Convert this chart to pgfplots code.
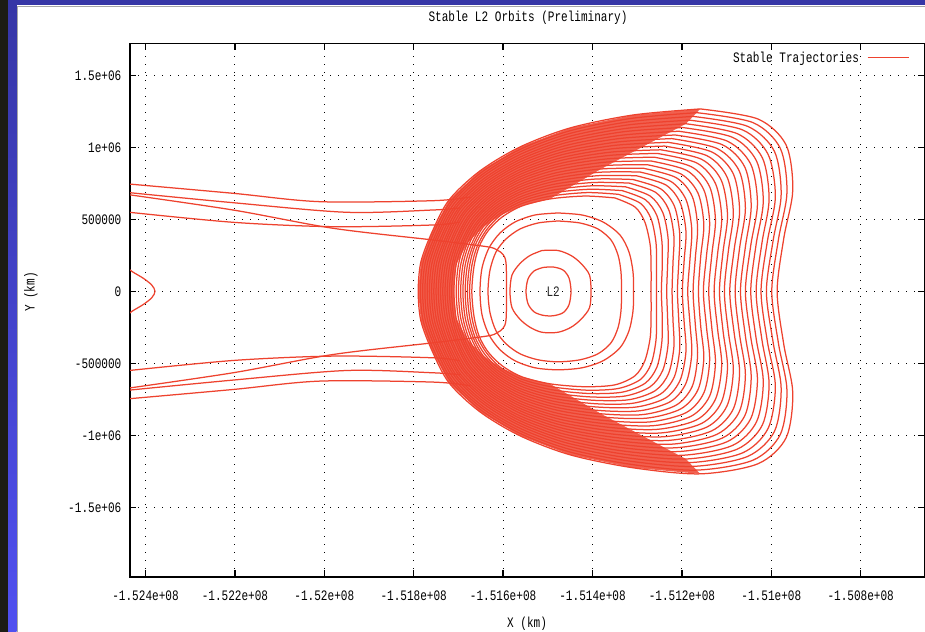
\documentclass[border=0pt]{standalone}
\usepackage{fontspec}
\newfontfamily\gnu{Liberation Mono}[FakeStretch=0.765]
\usepackage{pgfplots}
\pgfplotsset{compat=1.18}
\definecolor{trajred}{RGB}{238,66,46}
\definecolor{stripdark}{RGB}{28,28,20}
\definecolor{bluetop}{RGB}{54,54,166}
\definecolor{bluebot}{RGB}{80,80,240}
\newcommand\gfont{\gnu\fontsize{14.5}{16}\selectfont}
\pgfplotsset{band/.style={trajred, line width=1.25bp, smooth, forget plot}}
\begin{document}
\begin{tikzpicture}[x=1bp,y=1bp]
\useasboundingbox (0,0) rectangle (925,632);
\fill[white] (0,0) rectangle (925,632);
\fill[stripdark] (0,0) rectangle (8,632);
\shade[top color=bluetop, bottom color=bluebot] (8,0) rectangle (16.5,632);
\fill[bluetop] (8,626.5) rectangle (925,632);
\draw[black!35, line width=1.2bp] (17.2,0) -- (17.2,625.8) -- (925,625.8);
\begin{axis}[
  at={(130bp,55.2bp)}, anchor=south west,
  width=794.5bp, height=533.2bp, scale only axis,
  xmin=-152434.7, xmax=-150657.3,
  ymin=-1981.8, ymax=1720.7,
  clip=true,
  scaled x ticks=false, scaled y ticks=false,
  xtick={-152400,-152200,-152000,-151800,-151600,-151400,-151200,-151000,-150800},
  xticklabels={-1.524e+08,-1.522e+08,-1.52e+08,-1.518e+08,-1.516e+08,-1.514e+08,-1.512e+08,-1.51e+08,-1.508e+08},
  ytick={-1500,-1000,-500,0,500,1000,1500},
  yticklabels={-1.5e+06,-1e+06,-500000,0,500000,1e+06,1.5e+06},
  xtick pos=both, ytick pos=both,
  tick align=inside, major tick length=6.5bp,
  tick style={black, line width=1.4bp},
  axis line style={black, line width=1.6bp},
  grid=major,
  major grid style={black, line width=1bp, dash pattern=on 1bp off 7bp},
  ticklabel style={font=\gfont, text=black},
  xticklabel style={anchor=center, yshift=-18.5bp},
  yticklabel style={anchor=east, inner sep=0pt, xshift=-8.5bp},
  title={Stable L2 Orbits (Preliminary)},
  title style={font=\gfont, at={(axis description cs:0.501,1.0368)}, anchor=center},
  xlabel={X (km)},
  xlabel style={font=\gfont, at={(axis description cs:0.4997,-0.0886)}, anchor=center},
  ylabel={Y (km)},
  ylabel style={font=\gfont, at={(axis description cs:-0.1246,0.534)}, anchor=center},
  legend style={draw=none, fill=none, at={(axis description cs:1,1)}, anchor=north east, xshift=-15bp, yshift=-6bp, font=\gfont, inner sep=0pt},
  legend plot pos=right,
  legend image code/.code={\path (0bp,0bp); \draw[#1] (6bp,0bp) -- (47bp,0bp);},
]
\addlegendimage{trajred, line width=1.3bp}
\addlegendentry{Stable Trajectories}

% densely packed part of the family
\addplot[fill=trajred!84!white, draw=none, forget plot] coordinates {(-151159,1267) (-151309,1225) (-151450,1135) (-151562,1003) (-151652,836) (-151721,635) (-151759,412) (-151784,204) (-151790,0) (-151784,-204) (-151759,-412) (-151721,-635) (-151652,-836) (-151562,-1003) (-151450,-1135) (-151309,-1225) (-151159,-1267) (-151191,-1164) (-151381,-850) (-151495,-642) (-151558,-593) (-151605,-530) (-151645,-446) (-151680,-334) (-151705,-186) (-151710,0) (-151705,186) (-151680,334) (-151645,446) (-151605,530) (-151558,593) (-151495,642) (-151381,850) (-151191,1164) (-151159,1267)};

% nested stable trajectories
\addplot[band] coordinates {(-151350,649) (-151305,586) (-151283,482) (-151271,322) (-151269,162) (-151269,0) (-151269,-162) (-151271,-322) (-151283,-482) (-151305,-586) (-151350,-649) (-151417,-662) (-151495,-642) (-151558,-593) (-151602,-517) (-151634,-419) (-151654,-308) (-151665,-176) (-151670,0) (-151665,176) (-151654,308) (-151634,419) (-151602,517) (-151558,593) (-151495,642) (-151417,662) (-151350,649)};
\addplot[band] coordinates {(-151342,674) (-151293,612) (-151269,504) (-151258,338) (-151257,171) (-151257,0) (-151257,-171) (-151258,-338) (-151269,-504) (-151293,-612) (-151342,-674) (-151412,-686) (-151493,-662) (-151558,-610) (-151605,-530) (-151637,-428) (-151658,-313) (-151670,-178) (-151675,0) (-151670,178) (-151658,313) (-151637,428) (-151605,530) (-151558,610) (-151493,662) (-151412,686) (-151342,674)};
\addplot[band] coordinates {(-151334,700) (-151282,637) (-151256,526) (-151245,354) (-151244,180) (-151246,0) (-151244,-180) (-151245,-354) (-151256,-526) (-151282,-637) (-151334,-700) (-151408,-709) (-151491,-683) (-151558,-627) (-151607,-543) (-151641,-437) (-151663,-317) (-151675,-179) (-151680,0) (-151675,179) (-151663,317) (-151641,437) (-151607,543) (-151558,627) (-151491,683) (-151408,709) (-151334,700)};
\addplot[band] coordinates {(-151326,726) (-151271,662) (-151243,549) (-151231,370) (-151232,189) (-151234,0) (-151232,-189) (-151231,-370) (-151243,-549) (-151271,-662) (-151326,-726) (-151403,-733) (-151490,-703) (-151558,-644) (-151609,-557) (-151645,-446) (-151667,-321) (-151680,-180) (-151685,0) (-151680,180) (-151667,321) (-151645,446) (-151609,557) (-151558,644) (-151490,703) (-151403,733) (-151326,726)};
\addplot[band] coordinates {(-151318,752) (-151259,688) (-151230,571) (-151218,386) (-151220,197) (-151222,0) (-151220,-197) (-151218,-386) (-151230,-571) (-151259,-688) (-151318,-752) (-151399,-756) (-151488,-724) (-151558,-661) (-151611,-570) (-151648,-455) (-151671,-326) (-151685,-181) (-151690,0) (-151685,181) (-151671,326) (-151648,455) (-151611,570) (-151558,661) (-151488,724) (-151399,756) (-151318,752)};
\addplot[band] coordinates {(-151310,777) (-151248,713) (-151217,593) (-151205,402) (-151207,206) (-151210,0) (-151207,-206) (-151205,-402) (-151217,-593) (-151248,-713) (-151310,-777) (-151394,-780) (-151486,-744) (-151559,-678) (-151613,-583) (-151652,-464) (-151676,-330) (-151690,-182) (-151695,0) (-151690,182) (-151676,330) (-151652,464) (-151613,583) (-151559,678) (-151486,744) (-151394,780) (-151310,777)};
\addplot[band] coordinates {(-151302,803) (-151236,739) (-151204,616) (-151191,418) (-151195,215) (-151199,0) (-151195,-215) (-151191,-418) (-151204,-616) (-151236,-739) (-151302,-803) (-151390,-803) (-151484,-765) (-151559,-695) (-151615,-596) (-151656,-473) (-151680,-334) (-151695,-183) (-151700,0) (-151695,183) (-151680,334) (-151656,473) (-151615,596) (-151559,695) (-151484,765) (-151390,803) (-151302,803)};
\addplot[band] coordinates {(-151294,829) (-151225,764) (-151191,638) (-151178,434) (-151182,223) (-151187,0) (-151182,-223) (-151178,-434) (-151191,-638) (-151225,-764) (-151294,-829) (-151385,-827) (-151482,-785) (-151559,-712) (-151617,-610) (-151659,-482) (-151685,-339) (-151700,-184) (-151705,0) (-151700,184) (-151685,339) (-151659,482) (-151617,610) (-151559,712) (-151482,785) (-151385,827) (-151294,829)};
\addplot[band] coordinates {(-151286,855) (-151213,790) (-151177,660) (-151165,450) (-151170,232) (-151175,0) (-151170,-232) (-151165,-450) (-151177,-660) (-151213,-790) (-151286,-855) (-151381,-850) (-151480,-806) (-151559,-730) (-151619,-623) (-151663,-491) (-151689,-343) (-151705,-186) (-151710,0) (-151705,186) (-151689,343) (-151663,491) (-151619,623) (-151559,730) (-151480,806) (-151381,850) (-151286,855)};
\addplot[band] coordinates {(-151278,880) (-151202,815) (-151164,682) (-151151,465) (-151158,241) (-151163,0) (-151158,-241) (-151151,-465) (-151164,-682) (-151202,-815) (-151278,-880) (-151376,-873) (-151478,-826) (-151559,-747) (-151621,-636) (-151666,-500) (-151693,-347) (-151710,-187) (-151715,0) (-151710,187) (-151693,347) (-151666,500) (-151621,636) (-151559,747) (-151478,826) (-151376,873) (-151278,880)};
\addplot[band] coordinates {(-151270,906) (-151190,841) (-151151,705) (-151138,481) (-151145,249) (-151152,0) (-151145,-249) (-151138,-481) (-151151,-705) (-151190,-841) (-151270,-906) (-151372,-897) (-151477,-847) (-151560,-764) (-151623,-650) (-151670,-509) (-151698,-352) (-151714,-188) (-151720,0) (-151714,188) (-151698,352) (-151670,509) (-151623,650) (-151560,764) (-151477,847) (-151372,897) (-151270,906)};
\addplot[band] coordinates {(-151262,932) (-151179,866) (-151138,727) (-151125,497) (-151133,258) (-151140,0) (-151133,-258) (-151125,-497) (-151138,-727) (-151179,-866) (-151262,-932) (-151368,-920) (-151475,-868) (-151560,-781) (-151625,-663) (-151674,-518) (-151702,-356) (-151719,-189) (-151725,0) (-151719,189) (-151702,356) (-151674,518) (-151625,663) (-151560,781) (-151475,868) (-151368,920) (-151262,932)};
\addplot[band] coordinates {(-151255,958) (-151167,892) (-151125,749) (-151111,513) (-151120,267) (-151128,0) (-151120,-267) (-151111,-513) (-151125,-749) (-151167,-892) (-151255,-958) (-151363,-944) (-151473,-888) (-151560,-798) (-151627,-676) (-151677,-527) (-151706,-360) (-151724,-190) (-151730,0) (-151724,190) (-151706,360) (-151677,527) (-151627,676) (-151560,798) (-151473,888) (-151363,944) (-151255,958)};
\addplot[band] coordinates {(-151247,983) (-151156,917) (-151112,772) (-151098,529) (-151108,275) (-151116,0) (-151108,-275) (-151098,-529) (-151112,-772) (-151156,-917) (-151247,-983) (-151359,-967) (-151471,-909) (-151560,-815) (-151629,-690) (-151681,-536) (-151711,-365) (-151729,-191) (-151735,0) (-151729,191) (-151711,365) (-151681,536) (-151629,690) (-151560,815) (-151471,909) (-151359,967) (-151247,983)};
\addplot[band] coordinates {(-151239,1009) (-151144,942) (-151099,794) (-151085,545) (-151096,284) (-151105,0) (-151096,-284) (-151085,-545) (-151099,-794) (-151144,-942) (-151239,-1009) (-151354,-991) (-151469,-929) (-151560,-832) (-151631,-703) (-151685,-545) (-151715,-369) (-151734,-193) (-151740,0) (-151734,193) (-151715,369) (-151685,545) (-151631,703) (-151560,832) (-151469,929) (-151354,991) (-151239,1009)};
\addplot[band] coordinates {(-151231,1035) (-151133,968) (-151085,816) (-151071,561) (-151083,293) (-151093,0) (-151083,-293) (-151071,-561) (-151085,-816) (-151133,-968) (-151231,-1035) (-151350,-1014) (-151467,-950) (-151560,-849) (-151633,-716) (-151688,-554) (-151720,-373) (-151739,-194) (-151745,0) (-151739,194) (-151720,373) (-151688,554) (-151633,716) (-151560,849) (-151467,950) (-151350,1014) (-151231,1035)};
\addplot[band] coordinates {(-151223,1061) (-151122,993) (-151072,838) (-151058,577) (-151071,301) (-151081,0) (-151071,-301) (-151058,-577) (-151072,-838) (-151122,-993) (-151223,-1061) (-151345,-1037) (-151465,-970) (-151561,-866) (-151635,-730) (-151692,-563) (-151724,-378) (-151744,-195) (-151750,0) (-151744,195) (-151724,378) (-151692,563) (-151635,730) (-151561,866) (-151465,970) (-151345,1037) (-151223,1061)};
\addplot[band] coordinates {(-151215,1086) (-151110,1019) (-151059,861) (-151045,593) (-151058,310) (-151069,0) (-151058,-310) (-151045,-593) (-151059,-861) (-151110,-1019) (-151215,-1086) (-151341,-1061) (-151463,-991) (-151561,-883) (-151637,-743) (-151696,-572) (-151728,-382) (-151749,-196) (-151755,0) (-151749,196) (-151728,382) (-151696,572) (-151637,743) (-151561,883) (-151463,991) (-151341,1061) (-151215,1086)};
\addplot[band] coordinates {(-151207,1112) (-151099,1044) (-151046,883) (-151031,609) (-151046,319) (-151058,0) (-151046,-319) (-151031,-609) (-151046,-883) (-151099,-1044) (-151207,-1112) (-151336,-1084) (-151462,-1011) (-151561,-900) (-151639,-756) (-151699,-581) (-151733,-386) (-151754,-197) (-151760,0) (-151754,197) (-151733,386) (-151699,581) (-151639,756) (-151561,900) (-151462,1011) (-151336,1084) (-151207,1112)};
\addplot[band] coordinates {(-151199,1138) (-151087,1070) (-151033,905) (-151018,625) (-151034,327) (-151046,0) (-151034,-327) (-151018,-625) (-151033,-905) (-151087,-1070) (-151199,-1138) (-151332,-1108) (-151460,-1032) (-151561,-917) (-151641,-770) (-151703,-590) (-151737,-391) (-151759,-198) (-151765,0) (-151759,198) (-151737,391) (-151703,590) (-151641,770) (-151561,917) (-151460,1032) (-151332,1108) (-151199,1138)};
\addplot[band] coordinates {(-151191,1164) (-151076,1095) (-151020,927) (-151005,640) (-151021,336) (-151034,0) (-151021,-336) (-151005,-640) (-151020,-927) (-151076,-1095) (-151191,-1164) (-151327,-1131) (-151458,-1052) (-151561,-934) (-151643,-783) (-151706,-599) (-151742,-395) (-151764,-200) (-151770,0) (-151764,200) (-151742,395) (-151706,599) (-151643,783) (-151561,934) (-151458,1052) (-151327,1131) (-151191,1164)};
\addplot[band] coordinates {(-151183,1189) (-151064,1121) (-151007,950) (-150991,656) (-151009,345) (-151023,0) (-151009,-345) (-150991,-656) (-151007,-950) (-151064,-1121) (-151183,-1189) (-151323,-1155) (-151456,-1073) (-151562,-951) (-151646,-796) (-151710,-608) (-151746,-399) (-151769,-201) (-151775,0) (-151769,201) (-151746,399) (-151710,608) (-151646,796) (-151562,951) (-151456,1073) (-151323,1155) (-151183,1189)};
\addplot[band] coordinates {(-151175,1215) (-151053,1146) (-150993,972) (-150978,672) (-150996,353) (-151011,0) (-150996,-353) (-150978,-672) (-150993,-972) (-151053,-1146) (-151175,-1215) (-151318,-1178) (-151454,-1094) (-151562,-969) (-151648,-809) (-151714,-617) (-151750,-404) (-151774,-202) (-151780,0) (-151774,202) (-151750,404) (-151714,617) (-151648,809) (-151562,969) (-151454,1094) (-151318,1178) (-151175,1215)};
\addplot[band] coordinates {(-151167,1241) (-151041,1172) (-150980,994) (-150965,688) (-150984,362) (-150999,0) (-150984,-362) (-150965,-688) (-150980,-994) (-151041,-1172) (-151167,-1241) (-151314,-1201) (-151452,-1114) (-151562,-986) (-151650,-823) (-151717,-626) (-151755,-408) (-151779,-203) (-151785,0) (-151779,203) (-151755,408) (-151717,626) (-151650,823) (-151562,986) (-151452,1114) (-151314,1201) (-151167,1241)};
\addplot[band] coordinates {(-151159,1267) (-151030,1197) (-150967,1017) (-150952,704) (-150972,371) (-150987,0) (-150972,-371) (-150952,-704) (-150967,-1017) (-151030,-1197) (-151159,-1267) (-151309,-1225) (-151450,-1135) (-151562,-1003) (-151652,-836) (-151721,-635) (-151759,-412) (-151784,-204) (-151790,0) (-151784,204) (-151759,412) (-151721,635) (-151652,836) (-151562,1003) (-151450,1135) (-151309,1225) (-151159,1267)};

% inner quasi-periodic rings
\addplot[band] coordinates {(-151477.2,544.4) (-151423.5,530.5) (-151376.5,481.9) (-151338.5,391.6) (-151318.4,273.6) (-151309.4,134.7) (-151308.3,0) (-151309.4,-134.7) (-151318.4,-273.6) (-151338.5,-391.6) (-151376.5,-481.9) (-151423.5,-530.5) (-151477.2,-544.4) (-151528.7,-530.5) (-151573.4,-481.9) (-151606.9,-405.5) (-151631.6,-301.4) (-151647.2,-162.5) (-151651.7,0) (-151647.2,162.5) (-151631.6,301.4) (-151606.9,405.5) (-151573.4,481.9) (-151528.7,530.5) (-151477.2,544.4)};
\addplot[band] coordinates {(-151477.2,488.9) (-151428,475) (-151387.7,433.3) (-151358.6,356.9) (-151343,252.8) (-151336.3,134.7) (-151335.1,0) (-151336.3,-134.7) (-151343,-252.8) (-151358.6,-356.9) (-151387.7,-433.3) (-151428,-475) (-151477.2,-488.9) (-151521.9,-475) (-151562.2,-433.3) (-151593.5,-363.9) (-151615.9,-273.6) (-151629.3,-148.6) (-151633.8,0) (-151629.3,148.6) (-151615.9,273.6) (-151593.5,363.9) (-151562.2,433.3) (-151521.9,475) (-151477.2,488.9)};
\addplot[band] coordinates {(-151513,284) (-151477.2,284) (-151448.1,249.3) (-151425.7,193.7) (-151406.7,113.9) (-151403.4,0) (-151406.7,-113.9) (-151425.7,-193.7) (-151448.1,-249.3) (-151477.2,-284) (-151513,-284) (-151539.8,-249.3) (-151562.2,-193.7) (-151580.1,-113.9) (-151584.6,0) (-151580.1,113.9) (-151562.2,193.7) (-151539.8,249.3) (-151513,284)};
\addplot[band] coordinates {(-151510.8,166) (-151488.4,169.4) (-151466,148.6) (-151452.6,93) (-151448.1,0) (-151452.6,-93) (-151466,-148.6) (-151488.4,-169.4) (-151510.8,-166) (-151530.9,-141.7) (-151544.3,-86.1) (-151548.8,0) (-151544.3,86.1) (-151530.9,141.7) (-151510.8,166)};

% trajectories arriving from the left
\addplot[band] coordinates {(-152457,751) (-152204.3,681.2) (-152009.6,622.9) (-151756.8,629.8) (-151674.1,655.5)};
\addplot[band] coordinates {(-152457,692) (-152204.3,615.9) (-151949.9,549.3) (-151756.8,565.2) (-151696.4,579.1)};
\addplot[band] coordinates {(-152457,556) (-152204.3,479.8) (-151980.5,449.3) (-151756.8,461.1) (-151696.4,481.9)};
\addplot[band] coordinates {(-152457,-751) (-152204.3,-681.2) (-152009.6,-622.9) (-151756.8,-629.8) (-151674.1,-655.5)};
\addplot[band] coordinates {(-152457,-692) (-152204.3,-615.9) (-151949.9,-549.3) (-151756.8,-565.2) (-151696.4,-579.1)};
\addplot[band] coordinates {(-152457,-556) (-152204.3,-479.8) (-151980.5,-449.3) (-151756.8,-461.1) (-151696.4,-481.9)};
\addplot[band] coordinates {(-152457,680) (-152204.3,565.2) (-151980.5,438.2) (-151756.8,356.9) (-151636.7,310.4) (-151613.7,287.5) (-151600.2,256.2) (-151593.5,197.2) (-151592.4,0) (-151593.5,-197.2) (-151600.2,-256.2) (-151613.7,-287.5) (-151636.7,-310.4) (-151756.8,-356.9) (-151980.5,-438.2) (-152204.3,-565.2) (-152457,-680)};
% small arc at the left edge
\addplot[band] coordinates {(-152445.9,176.4) (-152429.5,136.8) (-152404.9,91) (-152386.1,44.4) (-152378.7,0) (-152386.1,-44.4) (-152404.9,-91) (-152429.5,-136.8) (-152445.9,-176.4)};

\node[font=\gfont, text=black!85] at (axis cs:-151488,0) {L2};
\end{axis}
\end{tikzpicture}
\end{document}
